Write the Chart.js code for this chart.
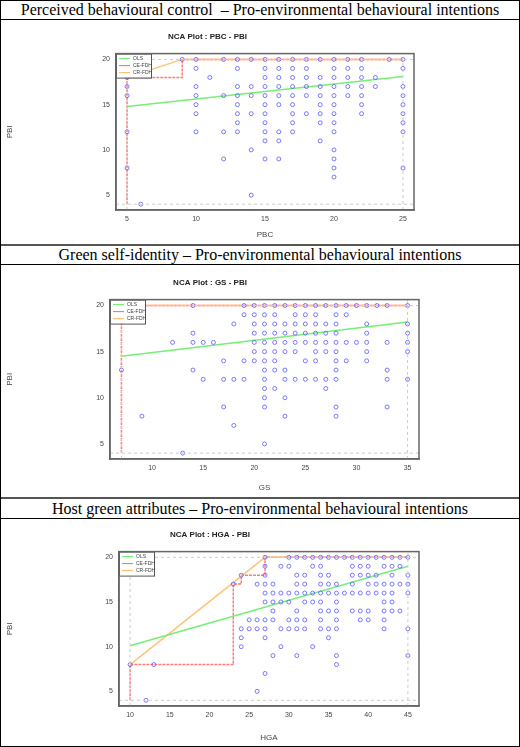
<!DOCTYPE html>
<html><head><meta charset="utf-8">
<script src="https://cdn.jsdelivr.net/npm/chart.js@4.4.0/dist/chart.umd.min.js"></script>
<style>
body{margin:0;background:#fff;}
#wrap{position:absolute;left:0;top:0;width:518px;height:745px;border:1px solid #000;}
.hdr{font-family:"Liberation Serif",serif;font-size:16px;text-align:center;border-bottom:1px solid #000;line-height:17px;height:18px;white-space:nowrap;}
.sep{border-top:1px solid #000;}
canvas{display:block;}
</style></head><body>
<div id="wrap">
<div class="hdr" style="height:18px">Perceived behavioural control &nbsp;– Pro-environmental behavioural intentions</div>
<div style="height:224px"><canvas id="c1"></canvas></div>
<div class="hdr sep" style="height:18px;border-top:2px solid #555">Green self-identity – Pro-environmental behavioural intentions</div>
<div style="height:232px"><canvas id="c2"></canvas></div>
<div class="hdr sep" style="height:19px;border-top:2px solid #555;line-height:19px">Host green attributes – Pro-environmental behavioural intentions</div>
<div style="height:228px"><canvas id="c3"></canvas></div>
</div>
<script>
// ---- Data: PBC - PBI ----
const pbcCols = [5,6,9,10,11,12,13,14,15,16,17,18,19,20,21,22,23,24,25];
const pbcVals = [[18,17,16,12,8],[4],[20],[20,19,17,16,15,14,12],[18],[20,16,12,9],[20,19,17,16,15,14,13,12],[20,17,16,14,10,5],[20,19,18,17,16,15,14,13,12,11,9],[20,19,18,17,16,15,12,11,9],[20,19,18,17,16,15,14,13,12],[20,19,18,17,16,14],[20,18,17,16,15,14,13,11],[20,19,18,17,16,15,14,13,12,10,9,8,7],[20,19,18,17,16],[20,19,18,17,16,15,14],[18,17],[20],[20,19,17,16,15,14,13,12,8]];
const pbcOLS = [[5,14.8],[25,18.1]];
const pbcCE = [[5,4],[5,18],[9,18],[9,20],[25,20]];
const pbcCR = [[5,18],[9,20],[25,20]];
const pbcScope = [5,25,4,20];
const pbcXTicks = [5,10,15,20,25];
// ---- Data: GS - PBI ----
const gsCols = [7,9,12,13,14,15,16,17,18,19,20,21,22,23,24,25,26,27,28,29,30,31,32,33,35];
const gsVals = [[20,13],[8],[16],[4],[20,17,16,13],[16,12],[16],[14,12,9],[18,12,7],[20,19,14,12],[20,19,18,17,16,15,14],[20,19,18,17,16,15,14,13,12,11,10,9,5],[20,19,18,17,16,15,14,13,11],[20,18,17,16,15,13,12,10,8],[20,19,18,17,16,15,12],[20,19,18,17,16,14,12],[20,19,18,17,16,15,14,12],[20,18,17,16,15,12,11],[20,19,18,17,16,15,14,13,12,9,8],[20,19,16,14],[20,16],[20,18,17,16,15,14],[20],[20,16,13,12,9],[20,18,17,16,15,12]];
const gsOLS = [[7,14.5],[35,18.2]];
const gsCE = [[7,4],[7,20],[35,20]];
const gsCR = [[7,20],[35,20]];
const gsScope = [7,35,4,20];
const gsXTicks = [10,15,20,25,30,35];
// ---- Data: HGA - PBI ----
const hgaCols = [10,12,13,23,24,25,26,27,28,29,30,31,32,33,34,35,36,37,38,39,40,41,42,43,44,45];
const hgaVals = [[8],[4],[8],[17],[18,12,11,10],[13,12],[17,13,12,5],[20,19,18,17,16,15,13,12,11,7],[17,16,15,14,13,9],[19,16,15,12,10],[20,19,16,15,13,12],[20,18,17,16,14,13,12,9],[20,18,17,16,15,13,12],[20,19,16,15,10],[20,19,18,17,16,15,14,13,12],[20,18,17,16,14,12,11],[20,17,16,15,14,13,12,9,8],[20,16],[20,19,18,17,16,14],[20,19,18,16,14,13],[20,19,18,17,16,14,13],[20,18,17,16],[20,19,17,16,15,14,13,12],[20,19,18,17,16,15,14],[20,19,17,14],[20,18,17,16,12,9]];
const hgaOLS = [[10,10.1],[45,19]];
const hgaCE = [[10,4],[10,8],[23,8],[23,17],[24,17],[24,18],[27,18],[27,20],[45,20]];
const hgaCR = [[10,8],[27,20],[45,20]];
const hgaScope = [10,45,4,20];
const hgaXTicks = [10,15,20,25,30,35,40,45];
const yTicks = [5,10,15,20];

const pts = a => a.map(p=>({x:p[0],y:p[1]}));
function scatter(cols, vals){const o=[];cols.forEach((c,i)=>vals[i].forEach(v=>o.push({x:c,y:v})));return o;}

const legendItems = [['OLS','#66ee66'],['CE-FDH','#ff6666'],['CR-FDH','#ffbb66']];
const legendPlugin = {id:'lg',afterDatasetsDraw(ch){
  const a=ch.chartArea,c=ch.ctx;
  c.save();c.fillStyle='#fff';c.strokeStyle='#555';c.lineWidth=1;
  const w=35,h=24;c.fillRect(a.left,a.top,w,h);c.strokeRect(a.left+0.5,a.top+0.5,w,h);
  c.font='5px Arial';c.textBaseline='middle';
  legendItems.forEach((it,i)=>{const y=a.top+5+i*7;c.strokeStyle=it[1];c.lineWidth=1;
    c.beginPath();c.moveTo(a.left+3,y);c.lineTo(a.left+14,y);c.stroke();c.fillStyle='#444';c.fillText(it[0],a.left+17,y);});
  c.restore();}};
const framePlugin={id:'frame',afterDraw(ch){const a=ch.chartArea,c=ch.ctx;c.save();c.strokeStyle='#666';c.lineWidth=1.5;c.strokeRect(a.left,a.top,a.right-a.left,a.bottom-a.top);c.restore();}};
Chart.register(framePlugin);

function make(id, title, xl, cols, vals, ols, ce, cr, scope, xt, xr, yr, L, R, T, xh, H){
  const gray={borderColor:'#ccc',borderWidth:1,borderDash:[3,3],pointRadius:0,showLine:true,fill:false};
  const ds=[
    Object.assign({data:[{x:xr[0],y:scope[3]},{x:xr[1],y:scope[3]}]},gray),
    Object.assign({data:[{x:xr[0],y:scope[2]},{x:xr[1],y:scope[2]}]},gray),
    Object.assign({data:[{x:scope[0],y:yr[0]},{x:scope[0],y:yr[1]}]},gray),
    Object.assign({data:[{x:scope[1],y:yr[0]},{x:scope[1],y:yr[1]}]},gray),
    {data:scatter(cols,vals),pointStyle:'circle',pointRadius:2,borderColor:'rgba(90,90,255,0.8)',backgroundColor:'transparent',borderWidth:1,showLine:false},
    {data:pts(ols),borderColor:'#77ee77',borderWidth:1.5,pointRadius:0,showLine:true},
    {data:pts(cr),borderColor:'rgba(255,190,110,0.9)',borderWidth:1.5,pointRadius:0,showLine:true},
    {data:pts(ce),borderColor:'rgba(255,80,80,0.75)',borderWidth:1.5,borderDash:[3,1],pointRadius:0,showLine:true}
  ];
  const cv=document.getElementById(id);cv.width=518;cv.height=H;cv.style.width='518px';cv.style.height=H+'px';
  new Chart(cv,{type:'scatter',data:{datasets:ds},plugins:[legendPlugin],
   options:{responsive:false,animation:false,events:[],
    layout:{padding:{left:0,right:518-R,top:0,bottom:0}},
    plugins:{legend:{display:false},tooltip:{enabled:false},
      title:{display:true,text:title,color:'#222',font:{family:'Arial',size:8,weight:'bold'},padding:{top:T-22,bottom:12}}},
    scales:{
      x:{type:'linear',min:xr[0],max:xr[1],afterBuildTicks:s=>{s.ticks=xt.map(v=>({value:v}));},
        ticks:{color:'#444',font:{family:'Arial',size:7},padding:2},
        grid:{display:false,tickLength:3,tickColor:'#555'},border:{color:'#666',width:1.5},
        title:{display:true,text:xl,color:'#444',font:{family:'Arial',size:8},padding:{top:6}},afterFit:s=>{s.height=xh;}},
      y:{type:'linear',min:yr[0],max:yr[1],afterBuildTicks:s=>{s.ticks=yTicks.map(v=>({value:v}));},
        ticks:{color:'#444',font:{family:'Arial',size:7},padding:3},
        grid:{display:false,tickLength:3,tickColor:'#555'},border:{color:'#666',width:1.5},
        title:{display:true,text:'PBI',color:'#444',font:{family:'Arial',size:8}},afterFit:s=>{s.width=L;}}
    }}});
}
make('c1','NCA Plot : PBC - PBI','PBC',pbcCols,pbcVals,pbcOLS,pbcCE,pbcCR,pbcScope,pbcXTicks,[4.2,25.8],[3.36,20.64],115,413,34,34,224);
make('c2','NCA Plot : GS - PBI','GS',gsCols,gsVals,gsOLS,gsCE,gsCR,gsScope,gsXTicks,[5.88,36.12],[3.36,20.64],109,418,35,38,232);
make('c3','NCA Plot : HGA - PBI','HGA',hgaCols,hgaVals,hgaOLS,hgaCE,hgaCR,hgaScope,hgaXTicks,[8.6,46.4],[3.36,20.64],118,418,33,41,228);
</script></body></html>
